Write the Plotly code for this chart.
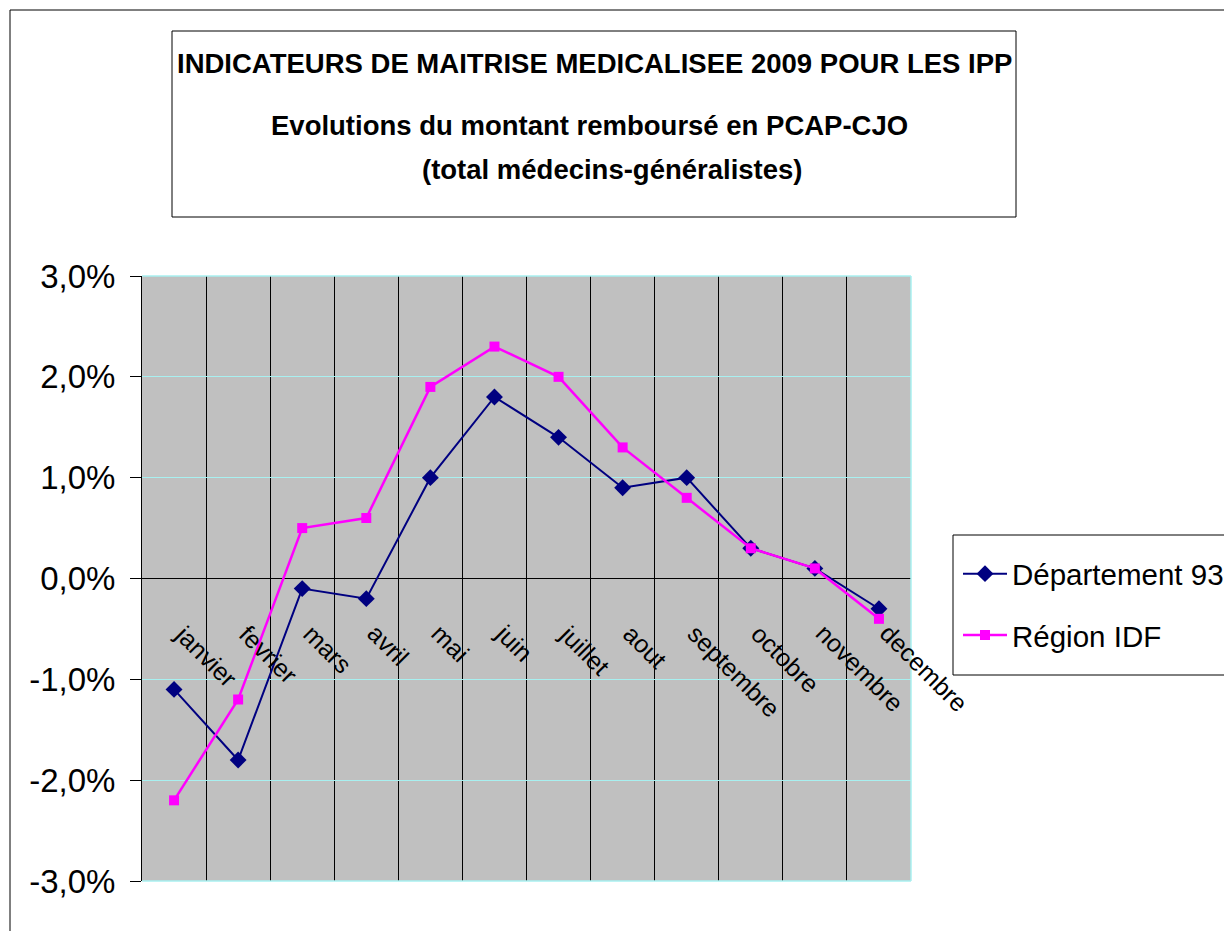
import plotly.graph_objects as go

months = ["janvier", "fevrier", "mars", "avril", "mai", "juin", "juillet",
          "aout", "septembre", "octobre", "novembre", "decembre"]
dept93 = [-1.1, -1.8, -0.1, -0.2, 1.0, 1.8, 1.4, 0.9, 1.0, 0.3, 0.1, -0.3]
region_idf = [-2.2, -1.2, 0.5, 0.6, 1.9, 2.3, 2.0, 1.3, 0.8, 0.3, 0.1, -0.4]
series_names = ["Département 93", "Région IDF"]
y_tick_values = [-3, -2, -1, 0, 1, 2, 3]
y_tick_labels = ["-3,0%", "-2,0%", "-1,0%", "0,0%", "1,0%", "2,0%", "3,0%"]
title_lines = ["INDICATEURS DE MAITRISE MEDICALISEE 2009 POUR LES IPP",
               "Evolutions du montant remboursé en PCAP-CJO",
               "(total médecins-généralistes)"]

OFF = 8  # page body margin
W, H = 1232 - 2 * OFF, 939 - 2 * OFF  # keep the page inside the viewport
L, R, T, B = 142, 911, 276, 881  # plot area in screen pixels
FONT = "Liberation Sans, Arial, sans-serif"


def px(x):
    return (x - L) / (R - L)


def py(y):
    return (B - y) / (B - T)


fig = go.Figure()
fig.add_trace(go.Scatter(
    x=months, y=dept93, name=series_names[0], mode="lines+markers",
    line=dict(color="#000080", width=2),
    marker=dict(symbol="diamond", size=13, color="#000080"),
    legendgroup="a"))
fig.add_trace(go.Scatter(
    x=months, y=region_idf, name=series_names[1], mode="lines+markers",
    line=dict(color="#FF00FF", width=2.5),
    marker=dict(symbol="square", size=10, color="#FF00FF"),
    legendgroup="b"))

annotations = []
for m in months:
    annotations.append(dict(
        x=m, y=0, xref="x", yref="y", text=m, showarrow=False,
        xanchor="left", yanchor="top", textangle=45,
        xshift=-7, yshift=-38,
        font=dict(family=FONT, size=25, color="black")))

title_pos = [(594, 64), (589, 125), (612, 170)]
for txt, (cx, cy) in zip(title_lines, title_pos):
    annotations.append(dict(
        x=px(cx), y=py(cy), xref="paper", yref="paper", text="<b>%s</b>" % txt,
        showarrow=False, xanchor="center", yanchor="middle",
        font=dict(family=FONT, size=27.5, color="black")))

shapes = [
    dict(type="rect", xref="paper", yref="paper", x0=px(10), y0=py(10),
         x1=px(1300), y1=py(1000), line=dict(color="black", width=1), layer="below"),
    dict(type="rect", xref="paper", yref="paper", x0=px(172), y0=py(217),
         x1=px(1016), y1=py(31), line=dict(color="black", width=1)),
    dict(type="line", xref="paper", yref="paper", x0=1, x1=1, y0=0, y1=1,
         line=dict(color="#A8F0F0", width=1.5)),
    dict(type="line", xref="paper", yref="paper", x0=0, x1=1, y0=1, y1=1,
         line=dict(color="#A8F0F0", width=1.5)),
    dict(type="line", xref="paper", yref="paper", x0=0, x1=1, y0=0, y1=0,
         line=dict(color="#A8F0F0", width=1.5)),
    # legend frame
    dict(type="rect", xref="paper", yref="paper", x0=px(953), y0=py(675),
         x1=px(1300), y1=py(535), line=dict(color="black", width=1),
         fillcolor="white"),
]

fig.update_layout(
    width=W, height=H,
    margin=dict(l=L - OFF, r=W - (R - OFF), t=T - OFF, b=H - (B - OFF),
                pad=0, autoexpand=False),
    paper_bgcolor="white", plot_bgcolor="#C0C0C0",
    showlegend=True,
    legend=dict(x=px(958), y=py(548), xanchor="left", yanchor="top",
                bgcolor="rgba(0,0,0,0)", borderwidth=0,
                font=dict(family=FONT, size=29.5, color="black"),
                itemwidth=44,
                traceorder="grouped", tracegroupgap=20),
    annotations=annotations,
    shapes=shapes,
)
fig.update_xaxes(
    type="category", range=[-0.5, 11.5], tickson="boundaries",
    showgrid=True, gridcolor="black", gridwidth=1, automargin=False,
    showticklabels=False, ticks="", showline=False, zeroline=False)
fig.update_yaxes(
    range=[-3, 3], tickmode="array", tickvals=y_tick_values, ticktext=y_tick_labels,
    showline=True, linecolor="black", linewidth=1, automargin=False,
    ticks="outside", ticklen=11, tickcolor="black",
    showgrid=True, gridcolor="#A8F0F0", gridwidth=1,
    zeroline=True, zerolinecolor="black", zerolinewidth=1,
    ticklabelstandoff=8,
    tickfont=dict(family=FONT, size=33, color="black"))

fig.write_html("out.html")
